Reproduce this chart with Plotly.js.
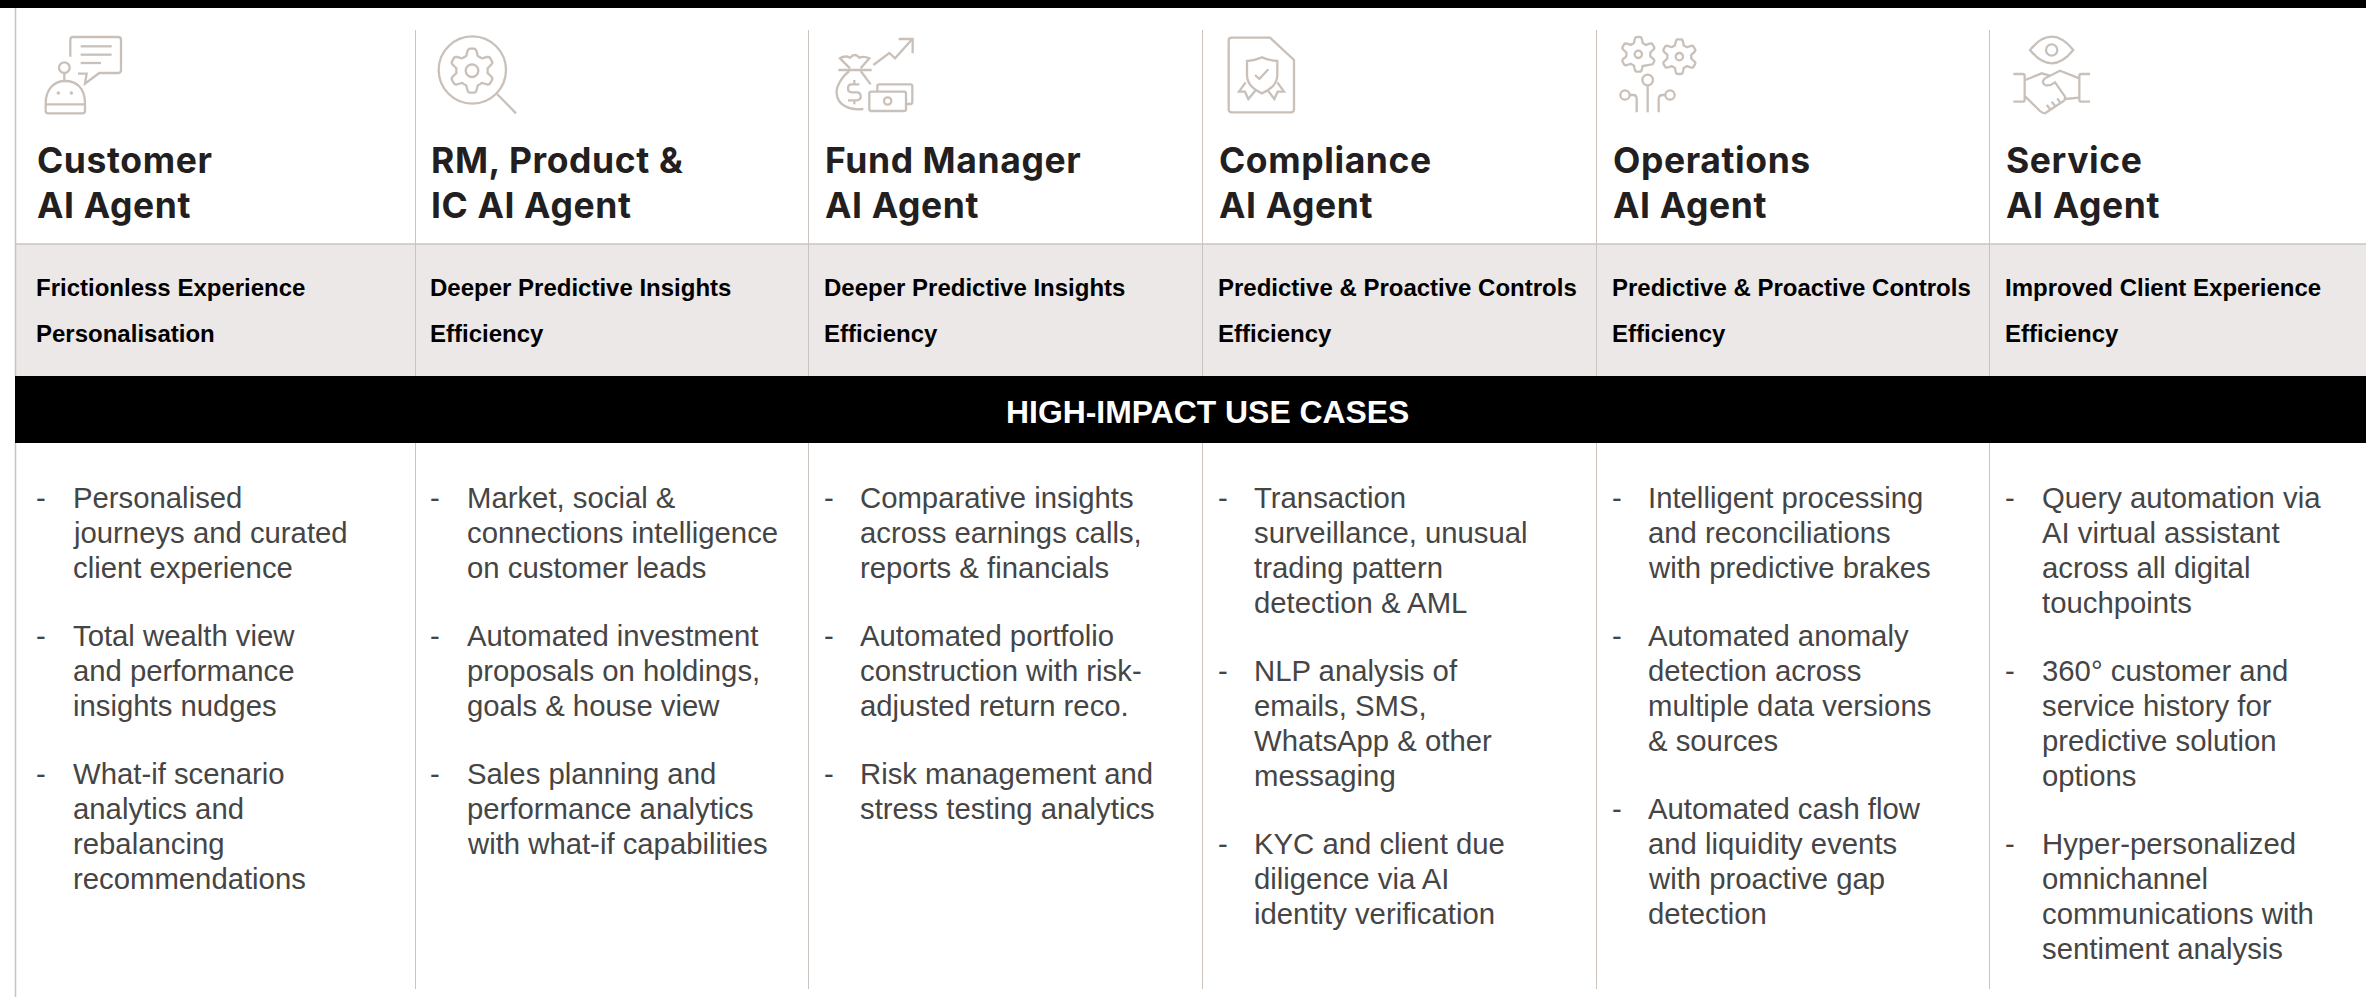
<!DOCTYPE html>
<html><head><meta charset="utf-8">
<script src="https://cdn.plot.ly/plotly-3.0.1.min.js"></script>
<style>html,body{margin:0;padding:0;background:#fff;overflow:hidden}#c{width:2366px;height:997px}</style>
</head><body><div id="c"></div>
<script>
const agentTitles = [
  ["Customer","AI Agent"],["RM, Product &","IC AI Agent"],["Fund Manager","AI Agent"],
  ["Compliance","AI Agent"],["Operations","AI Agent"],["Service","AI Agent"]];
const valueDrivers = [
  ["Frictionless Experience","Personalisation"],
  ["Deeper Predictive Insights","Efficiency"],
  ["Deeper Predictive Insights","Efficiency"],
  ["Predictive & Proactive Controls","Efficiency"],
  ["Predictive & Proactive Controls","Efficiency"],
  ["Improved Client Experience","Efficiency"]];
const bannerText = "HIGH-IMPACT USE CASES";
const customerCases = [["Personalised","journeys and curated","client experience"],
  ["Total wealth view","and performance","insights nudges"],
  ["What-if scenario","analytics and","rebalancing","recommendations"]];
const advisorCases = [["Market, social &","connections intelligence","on customer leads"],
  ["Automated investment","proposals on holdings,","goals & house view"],
  ["Sales planning and","performance analytics","with what-if capabilities"]];
const fundCases = [["Comparative insights","across earnings calls,","reports & financials"],
  ["Automated portfolio","construction with risk-","adjusted return reco."],
  ["Risk management and","stress testing analytics"]];
const complianceCases = [["Transaction","surveillance, unusual","trading pattern","detection & AML"],
  ["NLP analysis of","emails, SMS,","WhatsApp & other","messaging"],
  ["KYC and client due","diligence via AI","identity verification"]];
const operationsCases = [["Intelligent processing","and reconciliations","with predictive brakes"],
  ["Automated anomaly","detection across","multiple data versions","& sources"],
  ["Automated cash flow","and liquidity events","with proactive gap","detection"]];
const serviceCases = [["Query automation via","AI virtual assistant","across all digital","touchpoints"],
  ["360° customer and","service history for","predictive solution","options"],
  ["Hyper-personalized","omnichannel","communications with","sentiment analysis"]];
const useCases = [customerCases,advisorCases,fundCases,complianceCases,operationsCases,serviceCases];

// layout constants (pixels of the 2366x997 page)
const W=2366,H=997;
const colLeft=[15,415,808,1202,1596,1989];
const textX=[35,429,823,1216.5,1610.5,2003.5];
const bodyX=[72,466,859,1253,1647,2040.5];
const LINE=35,PARA=68,BODY_Y=497.5;
const iconColor="#c9c0b9",ruleColor="#cbc4be";

const shapes=[];
const rect=(x0,y0,x1,y1,c)=>shapes.push({type:"rect",xref:"x",yref:"y",x0,y0,x1,y1,fillcolor:c,line:{width:0},layer:"below"});
const vline=(x,y0,y1,w)=>shapes.push({type:"line",xref:"x",yref:"y",x0:x,x1:x,y0,y1,line:{color:ruleColor,width:w},layer:"below"});

rect(0,0,W,8,"#000");
rect(15,244,W,376,"#ebe8e7");
rect(15,376,W,443,"#000");
shapes.push({type:"line",xref:"x",yref:"y",x0:15,x1:W,y0:244,y1:244,line:{color:ruleColor,width:1.5},layer:"below"});
vline(15.5,8,376,1.5);vline(15.5,443,H,1.5);
colLeft.slice(1).forEach(x=>{vline(x+.5,30,376,1);vline(x+.5,443,989,1);});

// icons: paths are written in 3x crop space, then scaled and moved
function ic(ox,oy,d){let i=0;return d.replace(/-?\d+(\.\d+)?/g,m=>{const v=+m/3+(i++%2?oy:ox);return v.toFixed(2);});}
function circ(cx,cy,r){const k=r*.5523;return `M${cx+r},${cy} C${cx+r},${cy+k} ${cx+k},${cy+r} ${cx},${cy+r} C${cx-k},${cy+r} ${cx-r},${cy+k} ${cx-r},${cy} C${cx-r},${cy-k} ${cx-k},${cy-r} ${cx},${cy-r} C${cx+k},${cy-r} ${cx+r},${cy-k} ${cx+r},${cy} Z`;}
function gear(cx,cy,ro,ri,skipFrom,skipTo){let p=[];const n=144;for(let j=0;j<=n;j++){const t=j/n*2*Math.PI;if(skipFrom!==undefined&&t>skipFrom&&t<skipTo)continue;
  const f=Math.max(0,Math.min(1,.5+.85*Math.cos(6*t)));const r=ri+(ro-ri)*f;p.push((cx+r*Math.sin(t)).toFixed(1)+","+(cy-r*Math.cos(t)).toFixed(1));}
  return "M"+p.join(" L");}
function addIcon(ox,oy,parts,dots){parts.forEach(d=>shapes.push({type:"path",xref:"x",yref:"y",path:ic(ox,oy,d),line:{color:iconColor,width:2.3},layer:"above"}));
  (dots||[]).forEach(d=>shapes.push({type:"path",xref:"x",yref:"y",path:ic(ox,oy,d),fillcolor:iconColor,line:{color:iconColor,width:0},layer:"above"}));}

addIcon(30,25,[
 "M121,95 L121,44 Q121,36 129,36 L265,36 Q273,36 273,44 L273,136 Q273,144 265,144 L208,144 L165,176 L170,146 L144,146",
 "M152,64 L245,64","M152,89 L245,89","M152,114 L213,114",
 circ(103,128,16),"M103,144 L103,168",
 "M47,235 C47,190 75,168 105,168 C140,168 165,190 165,235 L165,257 Q165,265 157,265 L55,265 Q47,265 47,257 Z",
 "M47,238 L165,238"],[circ(85,204,5),circ(124,204,5)]);

addIcon(425,25,[circ(142,135,101),"M216,207 L273,265",circ(141,137,19),gear(141,137,66,47)]);

addIcon(820,25,[
 "M160,120 L208,84 L225,100 L275,44","M236,42 L278,42 L278,85",
 "M90,130 L60,100 Q75,90 90,98 Q105,82 118,98 Q132,92 148,100 L122,130","M55,135 L155,135",
 "M88,138 C60,160 48,190 50,205 C52,240 90,258 130,252","M122,138 L152,178",
 "M118,178 L95,178 Q84,178 84,190 Q84,202 95,202 L110,202 Q122,202 122,214 Q122,226 110,226 L84,226",
 "M103,165 L103,178","M103,226 L103,238",
 "M154,200 L252,200 Q258,200 258,206 L258,252 Q258,258 252,258 L154,258 Q148,258 148,252 L148,206 Q148,200 154,200 Z",
 circ(203,228,11),"M172,198 L172,184 Q172,178 178,178 L271,178 Q277,178 277,184 L277,231 Q277,237 271,237 L260,237"]);

addIcon(1215,25,[
 "M50,38 L165,38 L237,105 L237,253 Q237,262 228,262 L50,262 Q41,262 41,253 L41,47 Q41,38 50,38 Z",
 "M96,108 Q120,106 141,97 Q162,106 187,108 L187,150 Q187,185 141,205 Q96,185 96,150 Z",
 "M120,150 L133,162 L160,133",
 "M92,172 L72,200 L90,200 L100,222 L122,196","M187,172 L207,200 L188,200 L178,222 L158,196"]);

addIcon(1610,25,[
 gear(85,88,52,36,2.2,2.75),circ(85,88,11),gear(208,95,52,36),circ(208,95,11),
 circ(113,165,16),"M113,181 L113,262",
 circ(45,210,14),"M59,210 L70,210 Q80,210 80,222 L80,262",
 circ(180,210,14),"M166,210 L158,210 Q146,210 146,222 L146,262"]);

addIcon(2000,25,[
 "M90,75 Q155,-5 220,75 Q155,155 90,75 Z",circ(155,75,17),
 "M40,147 L68,147 Q74,147 74,153 L74,224 Q74,230 68,230 L40,230",
 "M270,147 L244,147 Q238,147 238,153 L238,224 Q238,230 244,230 L270,230",
 "M76,165 L125,145 L150,152",
 "M238,160 L180,137 L135,160 Q122,172 135,180 Q148,185 165,172 L195,215 Q197,226 185,232 L135,265 Q128,265 120,258 L76,215",
 "M195,222 L238,218","M150,252 L140,240","M165,242 L155,230","M180,232 L172,220"]);

// text
const ann=[];
const put=(text,x,y,size,color,family,weight,anchor)=>ann.push({text,x,y,xref:"x",yref:"y",showarrow:false,xanchor:anchor||"left",yanchor:"middle",borderpad:0,
  font:{size,color,family,weight:weight||400}});
const TITLE_SIZE=35.5,TRACK=0.6;
agentTitles.forEach((t,c)=>{put(t[0],textX[c],160.5,TITLE_SIZE,"#231f20","Inter",700);put(t[1],textX[c],205.5,TITLE_SIZE,"#231f20","Inter",700);});
valueDrivers.forEach((t,c)=>{put(t[0],textX[c],287.5,24,"#000","Liberation Sans",700);put(t[1],textX[c],333,24,"#000","Liberation Sans",700);});
put(bannerText,1207,411.5,31.9,"#fff","Liberation Sans",700,"center");
useCases.forEach((paras,c)=>{let y=BODY_Y;
  paras.forEach((lines,p)=>{
    put("-",textX[c],y,29.3,"#454545","Liberation Sans");
    lines.forEach((l,i)=>{put(l,bodyX[c],y,29.3,"#454545","Liberation Sans");if(i<lines.length-1)y+=LINE;});
    y+=PARA;});});

Plotly.newPlot("c",[{x:[],y:[],type:"scatter",mode:"markers",hoverinfo:"skip",showlegend:false}],{
  width:W,height:H,margin:{l:0,r:0,t:0,b:0,pad:0},paper_bgcolor:"#fff",plot_bgcolor:"#fff",showlegend:false,
  xaxis:{range:[0,W],visible:false,fixedrange:true},
  yaxis:{range:[H,0],visible:false,fixedrange:true},
  shapes,annotations:ann},{displayModeBar:false,staticPlot:true}).then(gd=>{
    // tracking for the wider display face of the agent titles; keeps the left edge fixed
    gd.querySelectorAll(".annotation-text").forEach(t=>{if(parseFloat(t.style.fontSize)===TITLE_SIZE){
      t.style.letterSpacing=TRACK+"px";
      t.setAttribute("x",parseFloat(t.getAttribute("x")||0)+t.textContent.length*TRACK/2+1);
    }});
  });
</script></body></html>
